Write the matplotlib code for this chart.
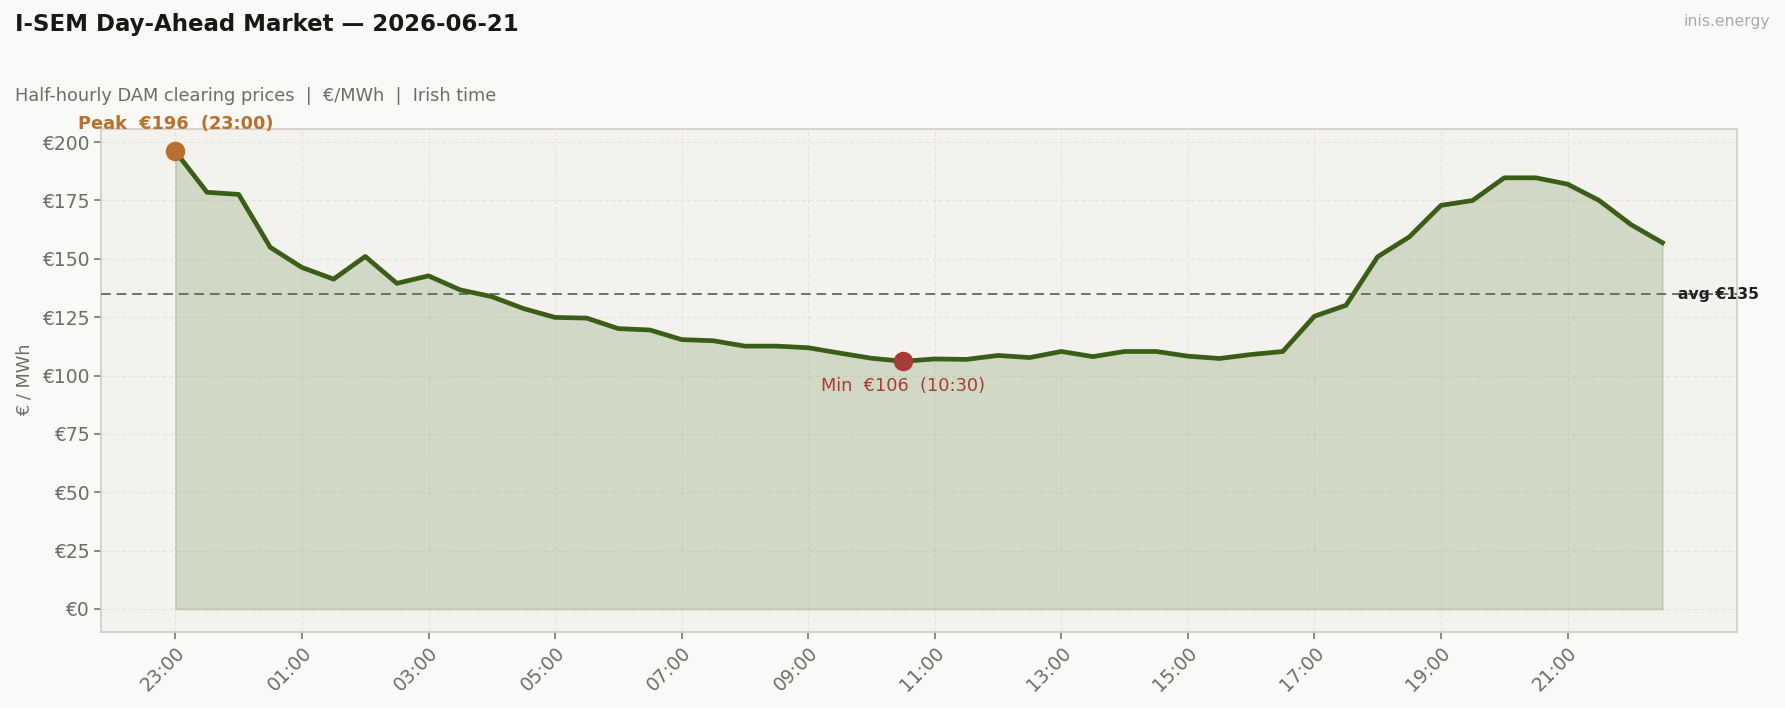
import matplotlib
matplotlib.use("Agg")
import matplotlib.pyplot as plt
import numpy as np

# ---- data ----
time_labels = ["23:00", "23:30", "00:00", "00:30", "01:00", "01:30", "02:00", "02:30",
               "03:00", "03:30", "04:00", "04:30", "05:00", "05:30", "06:00", "06:30",
               "07:00", "07:30", "08:00", "08:30", "09:00", "09:30", "10:00", "10:30",
               "11:00", "11:30", "12:00", "12:30", "13:00", "13:30", "14:00", "14:30",
               "15:00", "15:30", "16:00", "16:30", "17:00", "17:30", "18:00", "18:30",
               "19:00", "19:30", "20:00", "20:30", "21:00", "21:30", "22:00", "22:30"]
prices = [196.0, 178.5, 177.6, 154.9, 146.3, 141.3, 151.0, 139.5,
          142.7, 136.7, 133.8, 128.7, 124.9, 124.6, 120.1, 119.5,
          115.4, 114.9, 112.6, 112.6, 111.9, 109.6, 107.4, 106.1,
          107.1, 106.9, 108.6, 107.7, 110.3, 108.1, 110.3, 110.3,
          108.3, 107.3, 109.0, 110.3, 125.4, 130.1, 150.9, 159.4,
          172.9, 175.0, 184.7, 184.7, 182.0, 175.0, 164.7, 156.9]
yticks = [0, 25, 50, 75, 100, 125, 150, 175, 200]

title = "I-SEM Day-Ahead Market \u2014 2026-06-21"
subtitle = "Half-hourly DAM clearing prices  |  \u20ac/MWh  |  Irish time"
brand = "inis.energy"

# ---- style ----
FIG_BG = "#f9f9f7"
AX_BG = "#f3f2ee"
LINE = "#3a5e17"
FILL = "#5f7f3a"
PEAK_C = "#b8702c"
MIN_C = "#a83a3a"
TXT_GRAY = "#716b66"
SPINE = "#d2cec8"

plt.rcParams["font.family"] = ["DejaVu Sans"]

fig = plt.figure(figsize=(17.85, 7.08), dpi=100, facecolor=FIG_BG)
ax = fig.add_axes([0.0566, 0.1076, 0.9164, 0.7108])
ax.set_facecolor(AX_BG)

x = np.arange(len(prices))
y = np.array(prices)

ax.fill_between(x, y, 0, color=FILL, alpha=0.22, linewidth=1.2, zorder=2)
ax.plot(x, y, color=LINE, linewidth=3.4, zorder=4, solid_joinstyle="round")

avg = float(np.mean(y))
ax.axhline(avg, color="#6e6e6e", linestyle=(0, (5, 3)), linewidth=1.4, zorder=3)
ax.text(len(prices) - 0.5, avg, f"avg \u20ac{avg:.0f}", fontsize=11.25, fontweight="bold",
        color="#222222", va="center", ha="left", zorder=5)

imax = int(np.argmax(y))
imin = int(np.argmin(y))
ax.scatter([imax], [y[imax]], s=170, color=PEAK_C, zorder=6)
ax.scatter([imin], [y[imin]], s=170, color=MIN_C, zorder=6)
ax.annotate(f"Peak  \u20ac{y[imax]:.0f}  ({time_labels[imax]})", xy=(imax, y[imax]),
            xytext=(0, 20), textcoords="offset points", ha="center", va="center",
            fontsize=12.75, fontweight="bold", color=PEAK_C, annotation_clip=False)
ax.annotate(f"Min  \u20ac{y[imin]:.0f}  ({time_labels[imin]})", xy=(imin, y[imin]),
            xytext=(0, -18), textcoords="offset points", ha="center", va="center",
            fontsize=12.75, color=MIN_C)

ax.set_xlim(-2.35, len(prices) - 1 + 2.35)
ax.set_ylim(-9.8, 205.8)
ax.set_yticks(yticks)
ax.set_yticklabels([f"\u20ac{v}" for v in yticks])
xt = list(range(0, len(prices), 4))
ax.set_xticks(xt)
ax.set_xticklabels([time_labels[i] for i in xt], rotation=45, ha="right",
                   rotation_mode="anchor")
ax.tick_params(axis="both", colors="#7a746f", labelcolor=TXT_GRAY, labelsize=13.5,
               length=5, width=1.2)
ax.set_ylabel("\u20ac / MWh", fontsize=12.75, color=TXT_GRAY, labelpad=6)

ax.grid(True, color="#e3e0db", linestyle=(0, (4, 3)), linewidth=0.7, zorder=0)
ax.set_axisbelow(True)
for s in ax.spines.values():
    s.set_color(SPINE)
    s.set_linewidth(1.3)

fig.text(0.0084, 0.9647, title, fontsize=16.5, fontweight="bold", color="#1a1715",
         ha="left", va="center")
fig.text(0.0084, 0.865, subtitle, fontsize=12.75, color=TXT_GRAY, ha="left", va="center")
fig.text(0.9916, 0.9695, brand, fontsize=11.25, color="#aaaaaa", ha="right", va="center")

fig.savefig("out.png", dpi=100, facecolor=FIG_BG)
